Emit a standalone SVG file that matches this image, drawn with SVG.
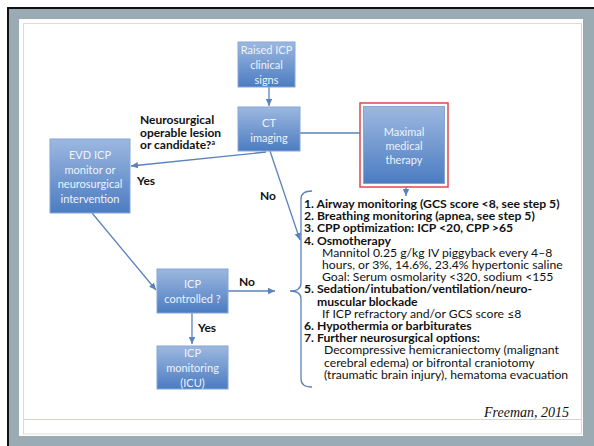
<svg xmlns="http://www.w3.org/2000/svg" width="594" height="446" viewBox="0 0 594 446">
<defs>
<linearGradient id="g" x1="0" y1="0" x2="0" y2="1">
<stop offset="0" stop-color="#9db8e0"/>
<stop offset="1" stop-color="#4b7cc1"/>
</linearGradient>
<marker id="ah" markerUnits="userSpaceOnUse" markerWidth="8" markerHeight="8" refX="7" refY="4" orient="auto">
<path d="M0,0.8 L7,4 L0,7.2 Z" fill="#5a82bd"/>
</marker>
<style>
.box{fill:url(#g);stroke:#86a6d4;stroke-width:1}
.nt{font-family:Lato,"Open Sans",sans-serif;font-size:11px;fill:#eef3fb;text-anchor:middle}
.lbl{font-family:Lato,"Open Sans",sans-serif;font-size:12px;font-weight:bold;fill:#111}
.c{stroke:#5a82bd;stroke-width:1.3;fill:none}
.li{font-family:Lato,"Open Sans",sans-serif;font-size:12.2px;fill:#111}
.b{font-weight:bold}
</style>
</defs>
<rect x="0" y="0" width="594" height="446" fill="#ffffff"/>
<rect x="9" y="9" width="585" height="437" fill="#9aabb3"/>
<rect x="7" y="7" width="587" height="2" fill="#111"/>
<rect x="7" y="7" width="2" height="439" fill="#111"/>
<rect x="19" y="19" width="564" height="417" fill="#ffffff"/>
<rect x="23.5" y="23.5" width="558" height="410.5" fill="none" stroke="#dcdcd4" stroke-width="1"/>
<line x1="23.5" y1="419.5" x2="581.5" y2="419.5" stroke="#d4d4cc" stroke-width="1"/>

<g id="connectors">
<line class="c" x1="269" y1="87" x2="269" y2="106" marker-end="url(#ah)"/>
<line class="c" x1="300" y1="133" x2="360" y2="133"/>
<line class="c" x1="406" y1="187" x2="406" y2="196" marker-end="url(#ah)"/>
<line class="c" x1="266" y1="152" x2="131" y2="166" marker-end="url(#ah)"/>
<line class="c" x1="270" y1="151" x2="300" y2="240" marker-end="url(#ah)"/>
<line class="c" x1="92" y1="213" x2="156" y2="290" marker-end="url(#ah)"/>
<line class="c" x1="228" y1="291" x2="275" y2="291" marker-end="url(#ah)"/>
<line class="c" x1="192" y1="313" x2="192" y2="344" marker-end="url(#ah)"/>
<path class="c" d="M312,191 Q301,191 301,199 L301,283 Q301,291 290,291 Q301,291 301,299 L301,379 Q301,387 312,387"/>
</g>

<g id="raised">
<rect class="box" x="238" y="42" width="57" height="45"/>
<text class="nt" x="266.5" y="54">Raised ICP</text>
<text class="nt" x="266.5" y="69">clinical</text>
<text class="nt" x="266.5" y="84">signs</text>
</g>
<g id="ct">
<rect class="box" x="238" y="107" width="62" height="44"/>
<text class="nt" x="269" y="127">CT</text>
<text class="nt" x="269" y="142">imaging</text>
</g>
<g id="maximal">
<rect x="360" y="103" width="88" height="84" fill="none" stroke="#e0474c" stroke-width="1.5"/>
<rect class="box" x="363.5" y="106.5" width="81" height="77"/>
<text class="nt" x="404" y="136">Maximal</text>
<text class="nt" x="404" y="150">medical</text>
<text class="nt" x="404" y="164">therapy</text>
</g>
<g id="evd">
<rect class="box" x="50" y="139" width="80" height="74"/>
<text class="nt" x="90" y="159">EVD ICP</text>
<text class="nt" x="90" y="174">monitor or</text>
<text class="nt" x="90" y="188">neurosurgical</text>
<text class="nt" x="90" y="203">intervention</text>
</g>
<g id="controlled">
<rect class="box" x="157" y="269" width="71" height="44"/>
<text class="nt" x="192.5" y="288">ICP</text>
<text class="nt" x="192.5" y="303">controlled ?</text>
</g>
<g id="monitoring">
<rect class="box" x="157" y="346" width="71" height="43"/>
<text class="nt" x="192.5" y="357">ICP</text>
<text class="nt" x="192.5" y="372">monitoring</text>
<text class="nt" x="192.5" y="387">(ICU)</text>
</g>

<g id="labels">
<text class="lbl" x="140" y="124">Neurosurgical</text>
<text class="lbl" x="140" y="136.5">operable lesion</text>
<text class="lbl" x="140" y="149">or candidate?<tspan font-size="7" dy="-4">a</tspan></text>
<text class="lbl" x="137" y="185">Yes</text>
<text class="lbl" x="260" y="200">No</text>
<text class="lbl" x="239" y="286">No</text>
<text class="lbl" x="198" y="332">Yes</text>
</g>

<g id="list">
<text class="li b" x="304" y="208">1. Airway monitoring (GCS score &lt;8, see step 5)</text>
<text class="li b" x="304" y="220.2">2. Breathing monitoring (apnea, see step 5)</text>
<text class="li b" x="304" y="232.4">3. CPP optimization: ICP &lt;20, CPP &gt;65</text>
<text class="li b" x="304" y="244.6">4. Osmotherapy</text>
<text class="li" x="322" y="256.8">Mannitol 0.25 g/kg IV piggyback every 4–8</text>
<text class="li" x="322" y="269">hours, or 3%, 14.6%, 23.4% hypertonic saline</text>
<text class="li" x="322" y="281.2">Goal: Serum osmolarity &lt;320, sodium &lt;155</text>
<text class="li b" x="304" y="293.4">5. Sedation/intubation/ventilation/neuro-</text>
<text class="li b" x="317" y="305.6">muscular blockade</text>
<text class="li" x="322" y="317.8">If ICP refractory and/or GCS score ≤8</text>
<text class="li b" x="304" y="330">6. Hypothermia or barbiturates</text>
<text class="li b" x="304" y="342.2">7. Further neurosurgical options:</text>
<text class="li" x="324" y="354.4">Decompressive hemicraniectomy (malignant</text>
<text class="li" x="324" y="366.6">cerebral edema) or bifrontal craniotomy</text>
<text class="li" x="324" y="378.8">(traumatic brain injury), hematoma evacuation</text>
</g>

<text x="569" y="417" text-anchor="end" font-family="'Liberation Serif',serif" font-style="italic" font-size="14" fill="#111">Freeman, 2015</text>
</svg>
